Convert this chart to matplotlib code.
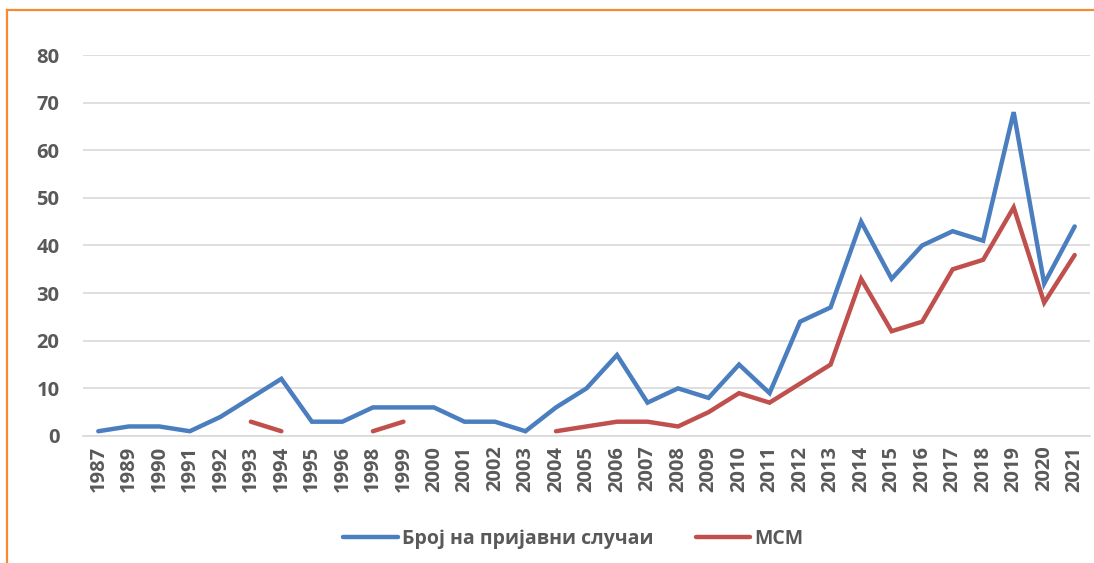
import numpy as np
import matplotlib
matplotlib.use("Agg")
import matplotlib.pyplot as plt
from matplotlib.lines import Line2D

years = ["1987", "1989", "1990", "1991", "1992", "1993", "1994", "1995", "1996",
         "1998", "1999", "2000", "2001", "2002", "2003", "2004", "2005", "2006",
         "2007", "2008", "2009", "2010", "2011", "2012", "2013", "2014", "2015",
         "2016", "2017", "2018", "2019", "2020", "2021"]
reported = [1, 2, 2, 1, 4, 8, 12, 3, 3,
            6, 6, 6, 3, 3, 1, 6, 10, 17,
            7, 10, 8, 15, 9, 24, 27, 45, 33,
            40, 43, 41, 68, 32, 44]
nan = np.nan
msm = [nan, nan, nan, nan, nan, 3, 1, nan, nan,
       1, 3, nan, nan, nan, nan, 1, 2, 3,
       3, 2, 5, 9, 7, 11, 15, 33, 22,
       24, 35, 37, 48, 28, 38]
series_names = ["Број на пријавни случаи", "МСМ"]
y_ticks = [0, 10, 20, 30, 40, 50, 60, 70, 80]

plt.rcParams['font.family'] = ['Open Sans', 'DejaVu Sans']

fig = plt.figure(figsize=(10.94, 5.63), dpi=100)
ax = fig.add_axes([0.0759, 0.2256, 0.9204, 0.6767])

x = np.arange(len(years))
blue = "#4A7EBF"
red = "#C0504D"
ax.plot(x, reported, color=blue, lw=3.2, solid_joinstyle='miter', solid_capstyle='round',
        label=series_names[0], zorder=3)
ax.plot(x, msm, color=red, lw=3.2, solid_joinstyle='miter', solid_capstyle='round',
        label=series_names[1], zorder=3)

ax.set_xlim(-0.5, len(years) - 0.5)
ax.set_ylim(0, 80)
ax.set_yticks(y_ticks)
ax.set_xticks(x)
ax.set_xticklabels(years, rotation=90)
ax.grid(axis='y', color='#d9d9d9', lw=1.2)
ax.set_axisbelow(True)
for s in ['top', 'right', 'left']:
    ax.spines[s].set_visible(False)
ax.spines['bottom'].set_color('#d9d9d9')
ax.spines['bottom'].set_linewidth(1.2)
ax.tick_params(axis='both', length=0, labelsize=14.5, labelcolor='#595959', pad=7)
ax.tick_params(axis='y', pad=17)
for lab in ax.get_xticklabels() + ax.get_yticklabels():
    lab.set_fontweight('bold')

leg = fig.legend(loc='center', bbox_to_anchor=(0.524, 0.043), ncol=2, frameon=False,
                 prop={'size': 14, 'weight': 'bold'}, handlelength=2.8,
                 handletextpad=0.2, columnspacing=2.2)
for t in leg.get_texts():
    t.set_color('#595959')

# orange frame (top and left)
fig.add_artist(Line2D([7 / 1094, 1.0], [1 - 10 / 563, 1 - 10 / 563],
                      transform=fig.transFigure, color='#F58A2E', lw=1.6))
fig.add_artist(Line2D([7 / 1094, 7 / 1094], [0, 1 - 10 / 563],
                      transform=fig.transFigure, color='#F58A2E', lw=1.6))

fig.savefig("out.png", dpi=100)
